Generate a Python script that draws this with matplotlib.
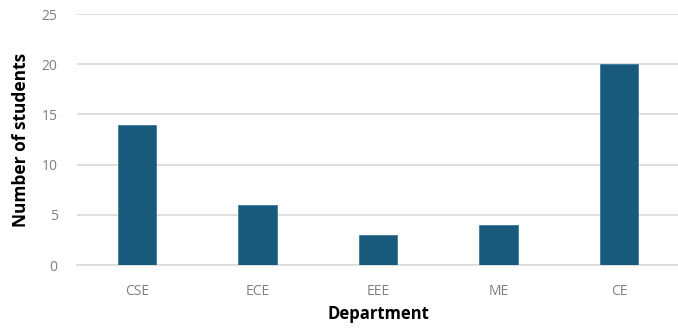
import matplotlib
matplotlib.use("Agg")
import matplotlib.pyplot as plt

departments = ["CSE", "ECE", "EEE", "ME", "CE"]
students = [14, 6, 3, 4, 20]
y_ticks = [0, 5, 10, 15, 20, 25]

plt.rcParams['font.family'] = ['Open Sans', 'DejaVu Sans']

fig = plt.figure(figsize=(6.78, 3.28), dpi=100)
ax = fig.add_axes([0.1136, 0.192, 0.888, 0.765])

x = range(len(departments))
ax.bar(x, students, width=0.32, color="#175a7c", edgecolor="#3f7a98",
       linewidth=0.6, zorder=3)

ax.set_xlim(-0.5, len(departments) - 0.5)
ax.set_ylim(0, 25)
ax.set_yticks(y_ticks)
ax.set_xticks(list(x))
ax.set_xticklabels(departments)

ax.yaxis.grid(True, color="#d9d9d9", linewidth=1.2, zorder=0)
ax.set_axisbelow(True)
for side in ["top", "right", "left"]:
    ax.spines[side].set_visible(False)
ax.spines["bottom"].set_color("#d9d9d9")
ax.spines["bottom"].set_linewidth(1.2)
ax.tick_params(axis="both", length=0, labelsize=10, colors="#7f7f7f")
ax.tick_params(axis="y", pad=14)
ax.tick_params(axis="x", pad=14)

ax.set_xlabel("Department", fontsize=12, fontweight="bold", color="black", labelpad=4)
ax.set_ylabel("Number of students", fontsize=12.5, fontweight="bold", color="black", labelpad=8)

fig.savefig("out.png", dpi=100)
